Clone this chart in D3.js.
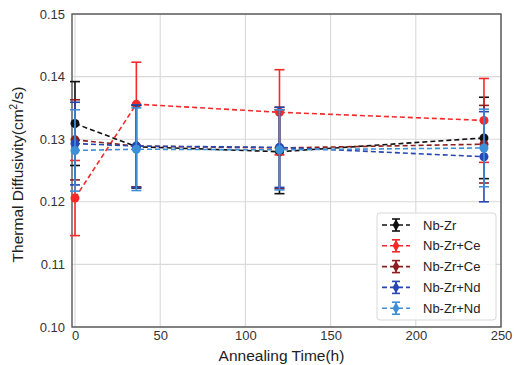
<!DOCTYPE html>
<html><head><meta charset="utf-8">
<script src="https://cdn.jsdelivr.net/npm/d3@7"></script>
<style>body{margin:0;background:#fff}svg{display:block;font-family:"Liberation Sans",Arial,sans-serif}</style>
</head><body>
<svg id="c" width="514" height="365"></svg>
<script>
const times = [0, 36, 120, 240];
const seriesNames = ["Nb-Zr", "Nb-Zr+Ce", "Nb-Zr+Ce", "Nb-Zr+Nd", "Nb-Zr+Nd"];
const seriesColors = ["#111111", "#f42a2a", "#8e1f1f", "#2846b4", "#3d8fd8"];
const nbZr      = [0.1325, 0.1288, 0.1280, 0.1302];
const nbZrErr   = [0.0067, 0.0066, 0.0067, 0.0065];
const nbZrCeA   = [0.1206, 0.1356, 0.1343, 0.1330];
const nbZrCeAErr= [0.0060, 0.0067, 0.0068, 0.0067];
const nbZrCeB   = [0.1299, 0.1289, 0.1286, 0.1292];
const nbZrCeBErr= [0.0064, 0.0065, 0.0065, 0.0062];
const nbZrNdA   = [0.1293, 0.1289, 0.1287, 0.1272];
const nbZrNdAErr= [0.0066, 0.0066, 0.0064, 0.0072];
const nbZrNdB   = [0.1282, 0.1284, 0.1283, 0.1286];
const nbZrNdBErr= [0.0065, 0.0066, 0.0064, 0.0062];
const xTicks = [0, 50, 100, 150, 200, 250];
const yTicks = [0.10, 0.11, 0.12, 0.13, 0.14, 0.15];

const values = [nbZr, nbZrCeA, nbZrCeB, nbZrNdA, nbZrNdB];
const errors = [nbZrErr, nbZrCeAErr, nbZrCeBErr, nbZrNdAErr, nbZrNdBErr];

const svg = d3.select("#c");
const L = 72, R = 501, T = 14, B = 327;
const x = d3.scaleLinear().domain([-1.76, 250]).range([L, R]);
const y = d3.scaleLinear().domain([0.10, 0.15]).range([B, T]);

// grid
const g = svg.append("g");
g.selectAll(".gx").data(xTicks).join("line")
  .attr("x1", d => x(d)).attr("x2", d => x(d)).attr("y1", T).attr("y2", B)
  .attr("stroke", "#d9d9d9").attr("stroke-width", 1.1);
g.selectAll(".gy").data(yTicks).join("line")
  .attr("x1", L).attr("x2", R).attr("y1", d => y(d)).attr("y2", d => y(d))
  .attr("stroke", "#d9d9d9").attr("stroke-width", 1.1);

// axes
const xAxis = d3.axisBottom(x).tickValues(xTicks).tickSize(0).tickPadding(4).tickFormat(d3.format("d"));
const yAxis = d3.axisLeft(y).tickValues(yTicks).tickSize(0).tickPadding(7).tickFormat(d3.format(".2f"));
const gx = svg.append("g").attr("transform", `translate(0,${B})`).call(xAxis);
const gy = svg.append("g").attr("transform", `translate(${L},0)`).call(yAxis);
[gx, gy].forEach(a => {
  a.select(".domain").remove();
  a.selectAll("text").attr("font-size", 13).attr("fill", "#333").attr("font-family", '"Liberation Sans",Arial,sans-serif');
});

// frame
svg.append("rect").attr("x", L).attr("y", T).attr("width", R - L).attr("height", B - T)
  .attr("fill", "none").attr("stroke", "#555").attr("stroke-width", 1.4);

// series
const line = d3.line().x((d, i) => x(times[i])).y(d => y(d));
values.forEach((vals, s) => {
  const col = seriesColors[s];
  const sg = svg.append("g");
  sg.append("path").attr("d", line(vals)).attr("fill", "none")
    .attr("stroke", col).attr("stroke-width", 1.6).attr("stroke-dasharray", "5,3");
  vals.forEach((v, i) => {
    const e = errors[s][i];
    const cx = x(times[i]);
    sg.append("line").attr("x1", cx).attr("x2", cx).attr("y1", y(v - e)).attr("y2", y(v + e))
      .attr("stroke", col).attr("stroke-width", 1.6);
    [v - e, v + e].forEach(w => {
      sg.append("line").attr("x1", cx - 5).attr("x2", cx + 5).attr("y1", y(w)).attr("y2", y(w))
        .attr("stroke", col).attr("stroke-width", 1.6);
    });
    sg.append("circle").attr("cx", cx).attr("cy", y(v)).attr("r", 4.5).attr("fill", col);
  });
});

// axis labels
svg.append("text").attr("x", (L + R) / 2 - 5).attr("y", 361).attr("text-anchor", "middle")
  .attr("font-size", 15.5).attr("fill", "#222").text("Annealing Time(h)");
const yl = svg.append("text").attr("transform", `translate(23,${(T + B) / 2 + 4}) rotate(-90)`)
  .attr("text-anchor", "middle").attr("font-size", 15.5).attr("fill", "#222");
yl.append("tspan").text("Thermal Diffusivity(cm");
yl.append("tspan").attr("font-size", 10).attr("dy", -6).text("2");
yl.append("tspan").attr("dy", 6).text("/s)");

// legend
const lg = svg.append("g");
lg.append("rect").attr("x", 377).attr("y", 213).attr("width", 119).attr("height", 107)
  .attr("rx", 3).attr("fill", "rgba(255,255,255,0.85)").attr("stroke", "#d8d8d8");
seriesNames.forEach((n, s) => {
  const yy = 225 + s * 20.8;
  const col = seriesColors[s];
  lg.append("line").attr("x1", 382).attr("x2", 410).attr("y1", yy).attr("y2", yy)
    .attr("stroke", col).attr("stroke-width", 1.6).attr("stroke-dasharray", "5,3");
  lg.append("line").attr("x1", 396).attr("x2", 396).attr("y1", yy - 6).attr("y2", yy + 6)
    .attr("stroke", col).attr("stroke-width", 1.6);
  [yy - 6, yy + 6].forEach(w => lg.append("line").attr("x1", 392).attr("x2", 400)
    .attr("y1", w).attr("y2", w).attr("stroke", col).attr("stroke-width", 1.6));
  lg.append("path").attr("d", d3.symbol(d3.symbolDiamond, 40)()).attr("transform", `translate(396,${yy})`).attr("fill", col);
  lg.append("text").attr("x", 423).attr("y", yy + 4.5).attr("font-size", 13).attr("fill", "#222").text(n);
});
</script>
</body></html>
